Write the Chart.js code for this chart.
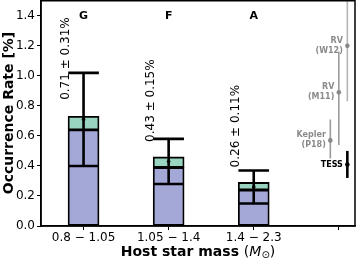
<!DOCTYPE html>
<html><head><meta charset="utf-8">
<script src="https://cdn.jsdelivr.net/npm/chart.js@4/dist/chart.umd.min.js"></script>
<style>html,body{margin:0;padding:0;background:#fff}#w{width:357px;height:263px}</style>
</head><body><div id="w"><canvas id="c"></canvas></div>
<script>
// ---- data ----
const categories = ['0.8 − 1.05', '1.05 − 1.4', '1.4 − 2.3'];
const spectralTypes = ['G', 'F', 'A'];
const rateValue = [0.71, 0.43, 0.26];
const rateErr = [0.31, 0.15, 0.11];
const purpleTop = [0.64, 0.39, 0.24];
const totalTop = [0.73, 0.46, 0.29];
const litNames = [['RV', '(W12)'], ['RV', '(M11)'], ['Kepler', '(P18)'], ['TESS']];
const litPos = [3.1, 3.0, 2.9, 3.1];
const litVal = [1.20, 0.89, 0.57, 0.41];
const litLo = [0.83, 0.54, 0.45, 0.32];
const litHi = [1.58, 1.16, 0.71, 0.50];
const yTickValues = [0, 0.2, 0.4, 0.6, 0.8, 1.0, 1.2, 1.4];
const xTickValues = [0, 1, 2, 3];

const CAP = 0.18;
const FONT = "'DejaVu Sans', sans-serif";

const errLine = [], capLine = [];
categories.forEach((c, i) => {
  const lo = rateValue[i] - rateErr[i], hi = rateValue[i] + rateErr[i];
  errLine.push({x: i, y: lo}, {x: i, y: hi}, {x: i, y: null});
  capLine.push({x: i - CAP, y: hi}, {x: i + CAP, y: hi}, {x: i, y: null});
  capLine.push({x: i - CAP, y: lo}, {x: i + CAP, y: lo}, {x: i, y: null});
});
function litSeg(idx) {
  const d = [];
  idx.forEach(k => { d.push({x: litPos[k], y: litLo[k]}, {x: litPos[k], y: litHi[k]}, {x: litPos[k], y: null}); });
  return d;
}

const labelsPlugin = {
  id: 'labels',
  afterDatasetsDraw(chart) {
    const ctx = chart.ctx, xs = chart.scales.x, ys = chart.scales.y, a = chart.chartArea;
    ctx.save();
    ctx.strokeStyle = '#000'; ctx.lineWidth = 1.5;
    ctx.strokeRect(a.left, a.top + 0.75, a.right - a.left, a.bottom - a.top - 0.75);
    ctx.fillStyle = '#000';
    ctx.font = 'bold 11px ' + FONT;
    ctx.textAlign = 'center'; ctx.textBaseline = 'middle';
    spectralTypes.forEach((t, i) => ctx.fillText(t, xs.getPixelForValue(i), ys.getPixelForValue(1.4)));
    ctx.font = '12px ' + FONT;
    rateValue.forEach((v, i) => {
      const px = xs.getPixelForValue(i - 0.21), py = ys.getPixelForValue(v + 0.13);
      ctx.save(); ctx.translate(px, py); ctx.rotate(-Math.PI / 2);
      ctx.textAlign = 'left'; ctx.textBaseline = 'middle';
      ctx.fillText(v.toFixed(2) + ' ± ' + rateErr[i].toFixed(2) + '%', 0, 0);
      ctx.restore();
    });
    ctx.font = 'bold 8px ' + FONT;
    ctx.textAlign = 'right'; ctx.textBaseline = 'middle';
    litNames.forEach((lines, k) => {
      ctx.fillStyle = k === 3 ? '#000' : '#8a8a8a';
      const px = xs.getPixelForValue(litPos[k]) - 4.5, py = ys.getPixelForValue(litVal[k]);
      const lh = 10, n = lines.length;
      lines.forEach((s, j) => ctx.fillText(s, px, py + (j - (n - 1) / 2) * lh));
    });
    const parts = [
      ['Host star mass ', 'bold 14px ' + FONT, 0],
      ['(', '14px ' + FONT, 0],
      ['M', 'italic 14px ' + FONT, 0],
      ['⊙', '10px ' + FONT, 3],
      [')', '14px ' + FONT, 0]
    ];
    let w = 0;
    parts.forEach(p => { ctx.font = p[1]; w += ctx.measureText(p[0]).width; });
    let x = (a.left + a.right) / 2 - w / 2;
    const y = 252;
    ctx.fillStyle = '#000'; ctx.textAlign = 'left'; ctx.textBaseline = 'middle';
    parts.forEach(p => { ctx.font = p[1]; ctx.fillText(p[0], x, y + p[2]); x += ctx.measureText(p[0]).width; });
    ctx.restore();
  }
};

new Chart(document.getElementById('c'), {
  type: 'bar',
  data: {
    datasets: [
      { type: 'bar', data: categories.map((c, i) => ({x: i, y: [0, purpleTop[i]]})),
        backgroundColor: '#a4a8d6', borderColor: '#000', borderWidth: 1.8, borderSkipped: false,
        barThickness: 31, grouped: false, order: 5 },
      { type: 'bar', data: categories.map((c, i) => ({x: i, y: [purpleTop[i], totalTop[i]]})),
        backgroundColor: '#98d4c0', borderColor: '#000', borderWidth: 1.8, borderSkipped: false,
        barThickness: 31, grouped: false, order: 4 },
      { type: 'line', data: errLine, borderColor: '#000', borderWidth: 2.6, pointRadius: 0, spanGaps: false, order: 2 },
      { type: 'line', data: capLine, borderColor: '#000', borderWidth: 2.6, pointRadius: 0, spanGaps: false, order: 2 },
      { type: 'scatter', data: rateValue.map((v, i) => ({x: i, y: v})), pointRadius: 1.8,
        backgroundColor: '#000', borderWidth: 0, order: 1 },
      { type: 'line', data: litSeg([0]), borderColor: '#b4b4b4', borderWidth: 1.6, pointRadius: 0, spanGaps: false, order: 3 },
      { type: 'line', data: litSeg([1, 2]), borderColor: '#9a9a9a', borderWidth: 1.6, pointRadius: 0, spanGaps: false, order: 3 },
      { type: 'line', data: litSeg([3]), borderColor: '#000', borderWidth: 2.6, pointRadius: 0, spanGaps: false, order: 3 },
      { type: 'scatter', data: litVal.slice(0, 3).map((v, k) => ({x: litPos[k], y: v})), pointRadius: 2.3,
        backgroundColor: '#888', borderWidth: 0, order: 1 },
      { type: 'scatter', data: [{x: litPos[3], y: litVal[3]}], pointRadius: 2.3,
        backgroundColor: '#000', borderWidth: 0, order: 1 }
    ]
  },
  options: {
    responsive: true, maintainAspectRatio: false, animation: false,
    layout: { autoPadding: false, padding: { top: 0, right: 2, left: 0, bottom: 0 } },
    plugins: { legend: { display: false }, tooltip: { enabled: false } },
    scales: {
      x: {
        type: 'linear', min: -0.5, max: 3.19, offset: false,
        afterBuildTicks: s => { s.ticks = xTickValues.map(v => ({value: v})); },
        afterFit: s => { s.height = 37; s.paddingLeft = 0; s.paddingRight = 0; },
        grid: { display: true, drawOnChartArea: false, drawTicks: true, tickLength: 4, color: '#000', offset: false },
        border: { display: true, color: '#000', width: 1.5 },
        ticks: { color: '#000', font: { family: FONT, size: 12 }, padding: 1, maxRotation: 0,
                 callback: v => categories[v] ?? '' }
      },
      y: {
        min: 0, max: 1.505,
        afterBuildTicks: s => { s.ticks = yTickValues.map(v => ({value: v})); },
        afterFit: s => { s.width = 41; s.paddingTop = 0; s.paddingBottom = 0; },
        grid: { display: true, drawOnChartArea: false, drawTicks: true, tickLength: 4, color: '#000' },
        border: { display: true, color: '#000', width: 1.5 },
        title: { display: true, text: 'Occurrence Rate [%]', color: '#000', font: { family: FONT, size: 14, weight: 'bold' }, padding: { top: 1, bottom: 0 } },
        ticks: { color: '#000', font: { family: FONT, size: 12 }, padding: 2, callback: v => v.toFixed(1) }
      }
    }
  },
  plugins: [labelsPlugin]
});
</script>
</body></html>
